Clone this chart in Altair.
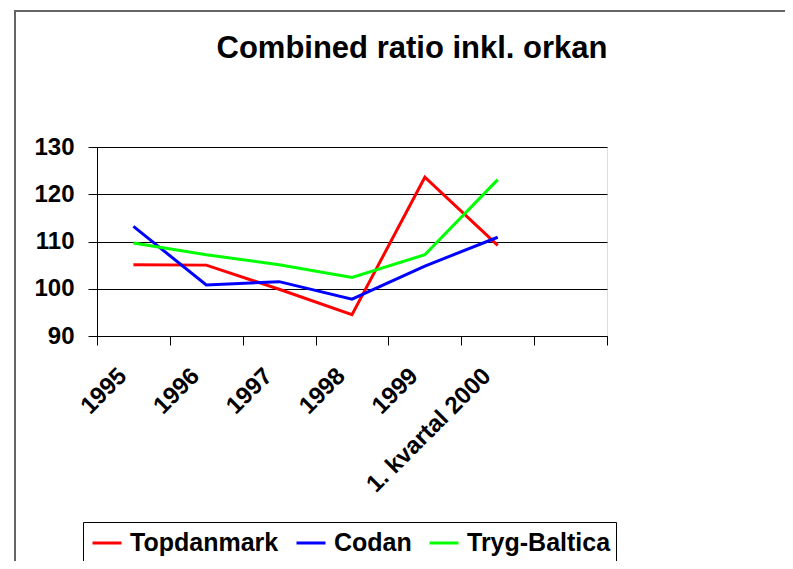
import altair as alt
import pandas as pd

categories = ["1995", "1996", "1997", "1998", "1999", "1. kvartal 2000"]
extra_slot = [" "]
series = ["Topdanmark", "Codan", "Tryg-Baltica"]
colors = ["#FF0000", "#0000FF", "#00FF00"]
topdanmark = [105.1, 105.0, 99.9, 94.5, 123.6, 109.2]
codan = [113.2, 100.8, 101.5, 97.8, 104.8, 110.9]
tryg_baltica = [109.7, 107.2, 105.1, 102.4, 107.2, 123.1]
y_ticks = [90, 100, 110, 120, 130]

rows = []
for name, vals in zip(series, [topdanmark, codan, tryg_baltica]):
    for c, v in zip(categories, vals):
        rows.append({"period": c, "company": name, "ratio": v})
df = pd.DataFrame(rows)

FONT = "Liberation Sans"

lines = alt.Chart(df).mark_line(strokeWidth=3).encode(
    x=alt.X(
        "period:N",
        sort=categories + extra_slot,
        bandPosition=0.5,
        scale=alt.Scale(type="band", domain=categories + extra_slot,
                        paddingInner=0, paddingOuter=0),
        axis=alt.Axis(
            title=None, tickBand="extent", labelAngle=-45, labelAlign="right",
            labelBaseline="middle", labelFont=FONT, labelFontSize=24,
            labelFontWeight="bold", labelColor="black", tickColor="black",
            tickSize=9, domainColor="black", labelPadding=27, labelOffset=-11,
            grid=False, labelLimit=400,
        ),
    ),
    y=alt.Y(
        "ratio:Q",
        scale=alt.Scale(domain=[90, 130], nice=False, zero=False),
        axis=alt.Axis(
            title=None, values=y_ticks, grid=True, gridColor="black",
            gridOpacity=1, gridWidth=1, tickColor="black", tickSize=9,
            domainColor="black", labelFont=FONT, labelFontSize=24,
            labelFontWeight="bold", labelColor="black", labelPadding=14,
        ),
    ),
    color=alt.Color(
        "company:N",
        scale=alt.Scale(domain=series, range=colors),
        legend=alt.Legend(
            title=None, orient="none", legendX=-14, legendY=375,
            direction="horizontal", symbolType="stroke", symbolSize=841,
            symbolStrokeWidth=3, labelFont=FONT, labelFontSize=25,
            labelFontWeight="bold", labelColor="black", labelLimit=400,
            strokeColor="black", fillColor="white", padding=5,
            columnPadding=11, labelOffset=7, symbolOffset=3,
        ),
    ),
)

border = alt.Chart(pd.DataFrame({"a": [0]})).mark_rect(
    filled=False, stroke="#666666", strokeWidth=2
).encode(
    x=alt.value(-82), x2=alt.value(900), y=alt.value(-136), y2=alt.value(700)
)

chart = alt.layer(border, lines).properties(
    width=510,
    height=189,
    padding={"left": 89, "top": 139, "right": 178, "bottom": 225},
    autosize="none",
    title=alt.TitleParams(
        "Combined ratio inkl. orkan", font=FONT, fontSize=31,
        fontWeight="bold", color="black", anchor="middle", dx=60,
        offset=-79, baseline="alphabetic",
    ),
).configure_view(stroke=None).configure(background="white")

chart.save("out.html", embed_options={"renderer": "svg", "actions": False})
